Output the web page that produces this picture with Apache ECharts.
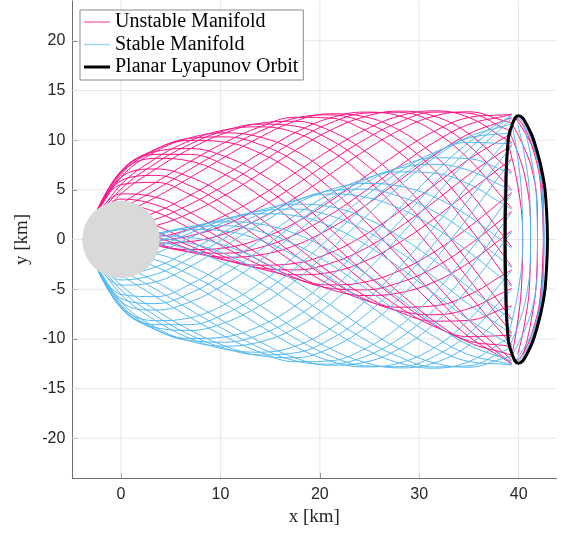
<!DOCTYPE html>
<html>
<head>
<meta charset="utf-8">
<style>
html,body{margin:0;padding:0;background:#fff;}
#chart{width:564px;height:533px;}
</style>
<script src="https://cdn.jsdelivr.net/npm/echarts@6.0.0/dist/echarts.min.js"></script>
</head>
<body>
<div id="chart"></div>
<script>
// ---------- data ----------
const xTicks = [0, 10, 20, 30, 40];
const yTicks = [-20, -15, -10, -5, 0, 5, 10, 15, 20];
const xLimits = [-4.9, 43.8];
const yLimits = [-24, 24];

// common x stations of the manifold trajectories (km)
const manifoldX = [-3.0, 0, 3.5, 7, 10.5, 14, 17.5, 21, 24.5, 28, 31.5, 35, 38.5, 39.3];

// unstable manifold trajectories: y (km) at each station
const unstableY = [
  [1.59, 6.9, 8.86, 9.15, 8.34, 6.64, 4.18, 1.1, -2.2, -5.37, -8.22, -10.35, -11.4, -11.64],
  [1.6, 6.74, 8.17, 7.87, 6.51, 4.38, 1.66, -1.36, -4.29, -6.81, -8.75, -9.78, -9.66, -9.63],
  [1.59, 6.26, 7.1, 6.26, 4.48, 2.11, -0.6, -3.31, -5.64, -7.3, -8.22, -8.13, -6.94, -6.67],
  [1.54, 5.52, 5.75, 4.48, 2.44, 0.07, -2.4, -4.57, -6.1, -6.81, -6.68, -5.57, -3.52, -3.05],
  [1.48, 4.59, 4.25, 2.69, 0.61, -1.55, -3.55, -5.0, -5.64, -5.37, -4.28, -2.33, 0.28, 0.88],
  [1.39, 3.55, 2.75, 1.08, -0.84, -2.59, -3.95, -4.57, -4.29, -3.14, -1.25, 1.25, 4.07, 4.72],
  [1.3, 2.52, 1.4, -0.2, -1.78, -2.95, -3.55, -3.31, -2.2, -0.31, 2.1, 4.83, 7.49, 8.1],
  [1.21, 1.58, 0.33, -1.02, -2.1, -2.59, -2.4, -1.36, 0.44, 2.81, 5.45, 8.07, 10.21, 10.7],
  [1.12, 0.84, -0.36, -1.3, -1.78, -1.55, -0.6, 1.1, 3.36, 5.93, 8.48, 10.63, 11.95, 12.25],
  [1.06, 0.36, -0.6, -1.02, -0.84, 0.07, 1.66, 3.83, 6.28, 8.76, 10.88, 12.28, 12.55, 12.61],
  [1.01, 0.2, -0.36, -0.2, 0.61, 2.11, 4.18, 6.55, 8.92, 10.99, 12.42, 12.85, 11.95, 11.74],
  [1.0, 0.36, 0.33, 1.08, 2.44, 4.38, 6.69, 9.01, 11.01, 12.43, 12.95, 12.28, 10.21, 9.74],
  [1.01, 0.84, 1.4, 2.69, 4.48, 6.64, 8.95, 10.96, 12.36, 12.92, 12.42, 10.63, 7.49, 6.77],
  [1.06, 1.58, 2.75, 4.48, 6.51, 8.68, 10.75, 12.22, 12.82, 12.43, 10.88, 8.07, 4.07, 3.15],
  [1.12, 2.52, 4.25, 6.26, 8.34, 10.3, 11.9, 12.65, 12.36, 10.99, 8.48, 4.83, 0.28, -0.76],
  [1.21, 3.55, 5.75, 7.87, 9.79, 11.34, 12.3, 12.22, 11.01, 8.76, 5.45, 1.25, -3.52, -4.61],
  [1.3, 4.59, 7.1, 9.15, 10.73, 11.7, 11.9, 10.96, 8.92, 5.93, 2.1, -2.33, -6.94, -8.0],
  [1.39, 5.52, 8.17, 9.97, 11.05, 11.34, 10.75, 9.01, 6.28, 2.81, -1.25, -5.57, -9.66, -10.6],
  [1.48, 6.26, 8.86, 10.25, 10.73, 10.3, 8.95, 6.55, 3.36, -0.31, -4.28, -8.13, -11.4, -12.15],
  [1.54, 6.74, 9.1, 9.97, 9.79, 8.68, 6.69, 3.83, 0.44, -3.14, -6.68, -9.78, -12.0, -12.51],
  [1.6, 6.86, 8.57, 8.56, 7.46, 5.52, 2.91, -0.18, -3.33, -6.2, -8.62, -10.21, -10.66, -10.76],
  [1.57, 5.92, 6.45, 5.38, 3.45, 1.05, -1.57, -4.04, -5.99, -7.18, -7.57, -6.95, -5.3, -4.92],
  [1.44, 4.07, 3.49, 1.85, -0.17, -2.15, -3.85, -4.89, -5.07, -4.34, -2.83, -0.56, 2.19, 2.82],
  [1.25, 2.03, 0.82, -0.67, -2.02, -2.86, -3.06, -2.41, -0.94, 1.23, 3.79, 6.52, 8.95, 9.51],
  [1.09, 0.57, -0.54, -1.23, -1.38, -0.8, 0.49, 2.45, 4.84, 7.4, 9.77, 11.59, 12.4, 12.59],
  [1.0, 0.24, -0.07, 0.39, 1.49, 3.23, 5.44, 7.83, 10.05, 11.82, 12.82, 12.71, 11.21, 10.87],
  [1.03, 1.18, 2.05, 3.57, 5.5, 7.7, 9.92, 11.69, 12.71, 12.8, 11.77, 9.45, 5.85, 5.03],
  [1.16, 3.03, 5.01, 7.1, 9.12, 10.9, 12.2, 12.54, 11.79, 9.96, 7.03, 3.06, -1.64, -2.72],
  [1.35, 5.07, 7.68, 9.62, 10.97, 11.61, 11.41, 10.06, 7.66, 4.39, 0.41, -4.02, -8.4, -9.4],
  [1.51, 6.54, 9.04, 10.18, 10.33, 9.55, 7.86, 5.2, 1.88, -1.78, -5.57, -9.09, -11.85, -12.48]
];

// stable manifold trajectories: y (km) at each station
const stableY = [
  [-1.59, -6.9, -8.86, -9.15, -8.34, -6.64, -4.18, -1.1, 2.2, 5.37, 8.22, 10.35, 11.4, 11.64],
  [-1.6, -6.74, -8.17, -7.87, -6.51, -4.38, -1.66, 1.36, 4.29, 6.81, 8.75, 9.78, 9.66, 9.63],
  [-1.59, -6.26, -7.1, -6.26, -4.48, -2.11, 0.6, 3.31, 5.64, 7.3, 8.22, 8.13, 6.94, 6.67],
  [-1.54, -5.52, -5.75, -4.48, -2.44, -0.07, 2.4, 4.57, 6.1, 6.81, 6.68, 5.57, 3.52, 3.05],
  [-1.48, -4.59, -4.25, -2.69, -0.61, 1.55, 3.55, 5.0, 5.64, 5.37, 4.28, 2.33, -0.28, -0.88],
  [-1.39, -3.55, -2.75, -1.08, 0.84, 2.59, 3.95, 4.57, 4.29, 3.14, 1.25, -1.25, -4.07, -4.72],
  [-1.3, -2.52, -1.4, 0.2, 1.78, 2.95, 3.55, 3.31, 2.2, 0.31, -2.1, -4.83, -7.49, -8.1],
  [-1.21, -1.58, -0.33, 1.02, 2.1, 2.59, 2.4, 1.36, -0.44, -2.81, -5.45, -8.07, -10.21, -10.7],
  [-1.12, -0.84, 0.36, 1.3, 1.78, 1.55, 0.6, -1.1, -3.36, -5.93, -8.48, -10.63, -11.95, -12.25],
  [-1.06, -0.36, 0.6, 1.02, 0.84, -0.07, -1.66, -3.83, -6.28, -8.76, -10.88, -12.28, -12.55, -12.61],
  [-1.01, -0.2, 0.36, 0.2, -0.61, -2.11, -4.18, -6.55, -8.92, -10.99, -12.42, -12.85, -11.95, -11.74],
  [-1.0, -0.36, -0.33, -1.08, -2.44, -4.38, -6.69, -9.01, -11.01, -12.43, -12.95, -12.28, -10.21, -9.74],
  [-1.01, -0.84, -1.4, -2.69, -4.48, -6.64, -8.95, -10.96, -12.36, -12.92, -12.42, -10.63, -7.49, -6.77],
  [-1.06, -1.58, -2.75, -4.48, -6.51, -8.68, -10.75, -12.22, -12.82, -12.43, -10.88, -8.07, -4.07, -3.15],
  [-1.12, -2.52, -4.25, -6.26, -8.34, -10.3, -11.9, -12.65, -12.36, -10.99, -8.48, -4.83, -0.28, 0.76],
  [-1.21, -3.55, -5.75, -7.87, -9.79, -11.34, -12.3, -12.22, -11.01, -8.76, -5.45, -1.25, 3.52, 4.61],
  [-1.3, -4.59, -7.1, -9.15, -10.73, -11.7, -11.9, -10.96, -8.92, -5.93, -2.1, 2.33, 6.94, 8.0],
  [-1.39, -5.52, -8.17, -9.97, -11.05, -11.34, -10.75, -9.01, -6.28, -2.81, 1.25, 5.57, 9.66, 10.6],
  [-1.48, -6.26, -8.86, -10.25, -10.73, -10.3, -8.95, -6.55, -3.36, 0.31, 4.28, 8.13, 11.4, 12.15],
  [-1.54, -6.74, -9.1, -9.97, -9.79, -8.68, -6.69, -3.83, -0.44, 3.14, 6.68, 9.78, 12.0, 12.51],
  [-1.6, -6.86, -8.57, -8.56, -7.46, -5.52, -2.91, 0.18, 3.33, 6.2, 8.62, 10.21, 10.66, 10.76],
  [-1.57, -5.92, -6.45, -5.38, -3.45, -1.05, 1.57, 4.04, 5.99, 7.18, 7.57, 6.95, 5.3, 4.92],
  [-1.44, -4.07, -3.49, -1.85, 0.17, 2.15, 3.85, 4.89, 5.07, 4.34, 2.83, 0.56, -2.19, -2.82],
  [-1.25, -2.03, -0.82, 0.67, 2.02, 2.86, 3.06, 2.41, 0.94, -1.23, -3.79, -6.52, -8.95, -9.51],
  [-1.09, -0.57, 0.54, 1.23, 1.38, 0.8, -0.49, -2.45, -4.84, -7.4, -9.77, -11.59, -12.4, -12.59],
  [-1.0, -0.24, 0.07, -0.39, -1.49, -3.23, -5.44, -7.83, -10.05, -11.82, -12.82, -12.71, -11.21, -10.87],
  [-1.03, -1.18, -2.05, -3.57, -5.5, -7.7, -9.92, -11.69, -12.71, -12.8, -11.77, -9.45, -5.85, -5.03],
  [-1.16, -3.03, -5.01, -7.1, -9.12, -10.9, -12.2, -12.54, -11.79, -9.96, -7.03, -3.06, 1.64, 2.72],
  [-1.35, -5.07, -7.68, -9.62, -10.97, -11.61, -11.41, -10.06, -7.66, -4.39, -0.41, 4.02, 8.4, 9.4],
  [-1.51, -6.54, -9.04, -10.18, -10.33, -9.55, -7.86, -5.2, -1.88, 1.78, 5.57, 9.09, 11.85, 12.48]
];

// trajectory arcs winding inside the orbit
const unstableInnerArcs = [
  [[38.8, 10.2], [39.9, 5.5], [40.4, 0.5], [40.3, -4.5], [39.8, -9], [39.4, -11.2]],
  [[39.0, 11.0], [40.6, 6.5], [41.2, 1], [41.1, -4.5], [40.5, -9], [39.9, -11.6]],
  [[39.3, 11.7], [41.3, 7.2], [41.9, 1.5], [41.8, -4], [41.2, -8.5], [40.5, -11.5]],
  [[39.7, 12.2], [41.9, 8], [42.5, 2], [42.4, -4], [41.8, -8.5], [40.9, -11.3]],
  [[42.5, 0], [42.15, -6], [41.4, -9.2], [40.6, -11.2], [39.8, -12.1], [39.1, -11.0], [38.8, -9], [38.55, -4.5], [38.5, 0], [38.55, 4.5], [38.8, 9], [39.1, 11], [39.8, 12.1], [40.6, 11.2], [41.4, 9.2], [42.15, 6], [42.5, 0]]
];
const stableInnerArcs = [
  [[38.8, -10.2], [39.9, -5.5], [40.4, -0.5], [40.3, 4.5], [39.8, 9], [39.4, 11.2]],
  [[39.0, -11.0], [40.6, -6.5], [41.2, -1], [41.1, 4.5], [40.5, 9], [39.9, 11.6]],
  [[39.3, -11.7], [41.3, -7.2], [41.9, -1.5], [41.8, 4], [41.2, 8.5], [40.5, 11.5]],
  [[39.7, -12.2], [41.9, -8], [42.5, -2], [42.4, 4], [41.8, 8.5], [40.9, 11.3]],
  [[42.6, 0], [42.3, -5.5], [41.6, -9], [40.7, -11.3], [39.9, -12.2], [39.2, -11.2], [38.85, -9.2], [38.6, -4.5], [38.55, 0], [38.6, 4.5], [38.85, 9.2], [39.2, 11.2], [39.9, 12.2], [40.7, 11.3], [41.6, 9], [42.3, 5.5], [42.6, 0]]
];

// planar Lyapunov orbit (closed)
const orbitPoints = [
  [42.9, 0], [42.8, -3], [42.5, -6.1], [41.7, -9.4], [40.9, -11.4], [40, -12.45],
  [39.3, -11.4], [38.9, -9.4], [38.72, -5], [38.65, 0], [38.72, 5], [38.9, 9.4],
  [39.3, 11.4], [40, 12.45], [40.9, 11.4], [41.7, 9.4], [42.5, 6.1], [42.8, 3], [42.9, 0]
];

// asteroid: centre and radius (km)
const asteroid = [0, 0, 3.9];

const legendNames = ['Unstable Manifold', 'Stable Manifold', 'Planar Lyapunov Orbit'];

// ---------- styles ----------
const unstableColor = '#ff1287';
const stableColor = '#52b9f5';
const gridColor = '#e6e6e6';
const axisColor = '#6e6e6e';
const textColor = '#262626';
const thinIcon = 'path://M0,0L0.01,0L0,0.01Z M0,9.2L26,9.2L26,10.8L0,10.8Z M26,20L25.99,20L26,19.99Z';
const thickIcon = 'path://M0,0L0.01,0L0,0.01Z M0,8.5L26,8.5L26,11.5L0,11.5Z M26,20L25.99,20L26,19.99Z';

const series = [];

// grid lines
xTicks.forEach(t => series.push({
  type: 'line', data: [[t, yLimits[0]], [t, yLimits[1]]], symbol: 'none', silent: true,
  lineStyle: { color: gridColor, width: 1 }, z: 0, animation: false
}));
yTicks.forEach(t => series.push({
  type: 'line', data: [[xLimits[0], t], [xLimits[1], t]], symbol: 'none', silent: true,
  lineStyle: { color: gridColor, width: 1 }, z: 0, animation: false
}));

function trajectory(name, data, color) {
  return {
    type: 'line', name: name, data: data, symbol: 'none', smooth: 0.4, silent: true,
    itemStyle: { color: color }, lineStyle: { color: color, width: 1 }, z: 2, animation: false
  };
}

unstableY.forEach(ys => series.push(trajectory(legendNames[0], manifoldX.map((x, j) => [x, ys[j]]), unstableColor)));
unstableInnerArcs.forEach(a => series.push(trajectory(legendNames[0], a, unstableColor)));
stableY.forEach(ys => series.push(trajectory(legendNames[1], manifoldX.map((x, j) => [x, ys[j]]), stableColor)));
stableInnerArcs.forEach(a => series.push(trajectory(legendNames[1], a, stableColor)));

series.push({
  type: 'line', name: legendNames[2], data: orbitPoints, symbol: 'none', smooth: 0.5, silent: true,
  itemStyle: { color: '#000' }, lineStyle: { color: '#000', width: 3 }, z: 5, animation: false
});

series.push({
  type: 'custom', data: [asteroid], silent: true, z: 6, animation: false,
  renderItem: function (params, api) {
    const c = api.coord([api.value(0), api.value(1)]);
    const r = api.size([api.value(2), 0])[0];
    return { type: 'circle', shape: { cx: c[0], cy: c[1], r: r }, style: { fill: '#d9d9d9', stroke: null } };
  }
});

const option = {
  backgroundColor: '#fff',
  animation: false,
  grid: { left: 72.3, right: 7.6, top: 1, bottom: 55, containLabel: false },
  xAxis: {
    type: 'value', min: xLimits[0], max: xLimits[1],
    name: 'x [km]', nameLocation: 'middle', nameGap: 30,
    nameTextStyle: { fontFamily: 'Liberation Serif', fontSize: 19, color: textColor },
    axisLine: { onZero: false, lineStyle: { color: axisColor, width: 1 } },
    axisTick: { customValues: xTicks, inside: true, length: 5, lineStyle: { color: axisColor } },
    axisLabel: { customValues: xTicks, margin: 9, fontFamily: 'Liberation Sans', fontSize: 16, color: textColor },
    splitLine: { show: false }
  },
  yAxis: {
    type: 'value', min: yLimits[0], max: yLimits[1],
    name: 'y [km]', nameLocation: 'middle', nameGap: 40, nameRotate: 90,
    nameTextStyle: { fontFamily: 'Liberation Serif', fontSize: 19, color: textColor },
    axisLine: { onZero: false, lineStyle: { color: axisColor, width: 1 } },
    axisTick: { customValues: yTicks, inside: true, length: 5, lineStyle: { color: axisColor } },
    axisLabel: { customValues: yTicks, margin: 7, fontFamily: 'Liberation Sans', fontSize: 16, color: textColor },
    splitLine: { show: false }
  },
  legend: {
    data: [
      { name: legendNames[0], icon: thinIcon, itemStyle: { color: '#f57ab8' } },
      { name: legendNames[1], icon: thinIcon, itemStyle: { color: '#9fd6f6' } },
      { name: legendNames[2], icon: thickIcon, itemStyle: { color: '#000' } }
    ],
    orient: 'vertical', left: 80, top: 10,
    itemWidth: 26, itemHeight: 20, itemGap: 2.5,
    padding: [2, 5, 3, 4],
    borderColor: '#8a8a8a', borderWidth: 1, backgroundColor: '#fff',
    selectedMode: false, z: 20,
    textStyle: { fontFamily: 'Liberation Serif', fontSize: 20, color: '#000', lineHeight: 20 }
  },
  series: series
};

const chart = echarts.init(document.getElementById('chart'), null, { renderer: 'canvas' });
chart.setOption(option);
</script>
</body>
</html>
